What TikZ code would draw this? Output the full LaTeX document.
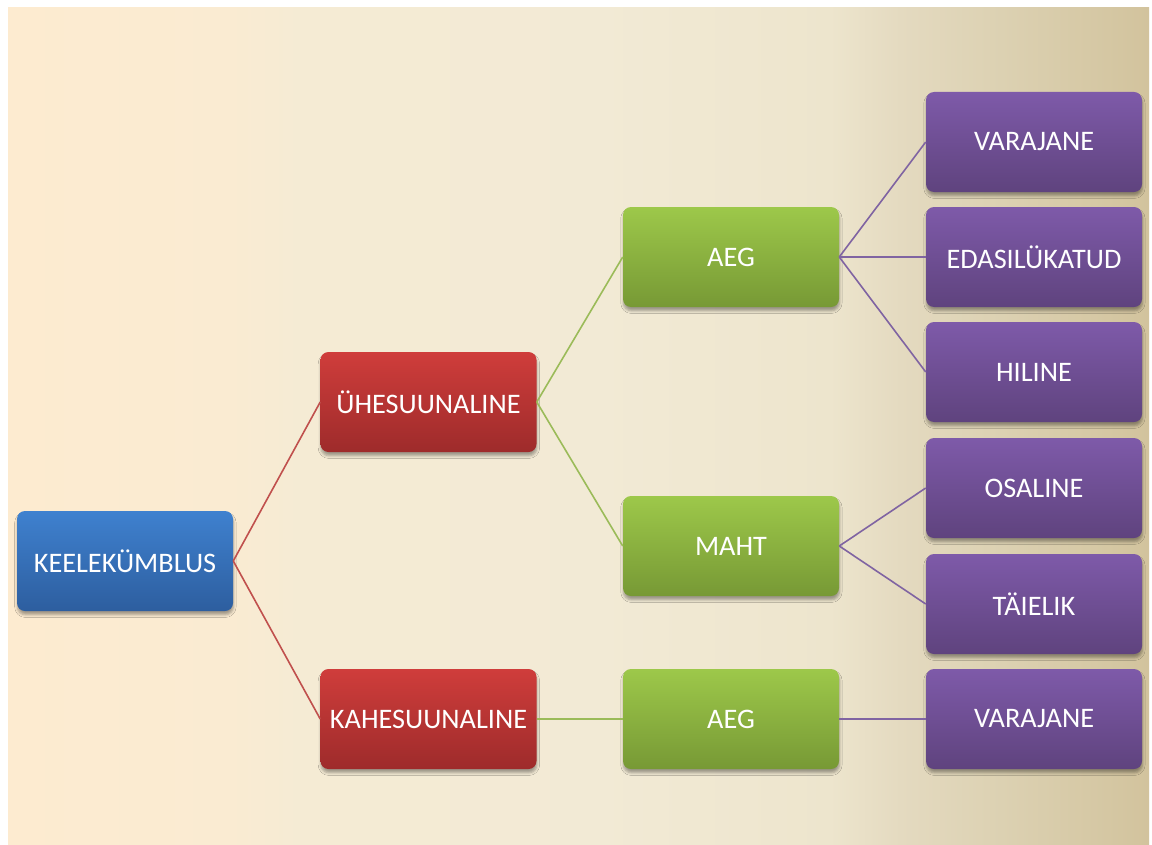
\documentclass[tikz,border=0pt]{standalone}
\usepackage{fontspec}
\setmainfont{Carlito}
\usetikzlibrary{shadows.blur}
\definecolor{bgA}{HTML}{FDEBD0}
\definecolor{bgB}{HTML}{FAEBD2}
\definecolor{bgC}{HTML}{F5EBD4}
\definecolor{bgD}{HTML}{F2EAD5}
\definecolor{bgE}{HTML}{EDE5CD}
\definecolor{bgF}{HTML}{E4DAC0}
\definecolor{bgG}{HTML}{DCD1B2}
\definecolor{bgH}{HTML}{D2C39D}
\pgfdeclarehorizontalshading{bgshade}{100bp}{color(0bp)=(bgA); color(25bp)=(bgA); color(34.7bp)=(bgB); color(37.8bp)=(bgC); color(50.9bp)=(bgD); color(61bp)=(bgE); color(64.1bp)=(bgF); color(68.5bp)=(bgG); color(75bp)=(bgH); color(100bp)=(bgH)}
\definecolor{blueT}{HTML}{3F81CF}
\definecolor{blueB}{HTML}{2D5E9F}
\definecolor{redT}{HTML}{CF3D3B}
\definecolor{redB}{HTML}{9E2B2B}
\definecolor{greenT}{HTML}{9DC84A}
\definecolor{greenB}{HTML}{779935}
\definecolor{purT}{HTML}{7E5AA9}
\definecolor{purB}{HTML}{5F437E}
\definecolor{redL}{HTML}{C0504D}
\definecolor{greenL}{HTML}{9BBB59}
\definecolor{purL}{HTML}{8064A2}
\begin{document}
\begin{tikzpicture}[x=0.75pt,y=-0.75pt,
  box/.style={rounded corners=6pt, minimum width=162pt, minimum height=75pt, inner sep=0pt,
    text=white, font=\fontsize{21.2}{25}\selectfont,
    blur shadow={shadow xshift=0.3pt, shadow yshift=-2.8pt, shadow blur radius=2pt, shadow blur extra rounding=1pt, shadow opacity=35}},
  bluebox/.style={box, top color=blueT, bottom color=blueB},
  redbox/.style={box, top color=redT, bottom color=redB},
  greenbox/.style={box, top color=greenT, bottom color=greenB},
  purbox/.style={box, top color=purT, bottom color=purB},
  redline/.style={draw=redL, line width=1.2pt},
  greenline/.style={draw=greenL, line width=1.2pt},
  purline/.style={draw=purL, line width=1.2pt}]
\useasboundingbox (0,0) rectangle (1152,845);
\fill[white] (0,0) rectangle (1152,845);
\shade[shading=bgshade] (8,8) rectangle (1149,845);

\node[bluebox] (keel) at (125,561) {KEELEKÜMBLUS};
\node[redbox] (uhe) at (428.5,402) {ÜHESUUNALINE};
\node[redbox] (kahe) at (428.5,719) {KAHESUUNALINE};
\node[greenbox] (aeg1) at (731,257) {AEG};
\node[greenbox] (maht) at (731,546) {MAHT};
\node[greenbox] (aeg2) at (731,719) {AEG};
\node[purbox] (v1) at (1034,142) {VARAJANE};
\node[purbox] (edas) at (1034,257) {EDASILÜKATUD};
\node[purbox] (hil) at (1034,372) {HILINE};
\node[purbox] (osa) at (1034,488) {OSALINE};
\node[purbox] (tai) at (1034,604) {TÄIELIK};
\node[purbox] (v2) at (1034,719) {VARAJANE};

\draw[redline] (keel.east) -- (uhe.west);
\draw[redline] (keel.east) -- (kahe.west);
\draw[greenline] (uhe.east) -- (aeg1.west);
\draw[greenline] (uhe.east) -- (maht.west);
\draw[greenline] (kahe.east) -- (aeg2.west);
\draw[purline] (aeg1.east) -- (v1.west);
\draw[purline] (aeg1.east) -- (edas.west);
\draw[purline] (aeg1.east) -- (hil.west);
\draw[purline] (maht.east) -- (osa.west);
\draw[purline] (maht.east) -- (tai.west);
\draw[purline] (aeg2.east) -- (v2.west);
\end{tikzpicture}
\end{document}
